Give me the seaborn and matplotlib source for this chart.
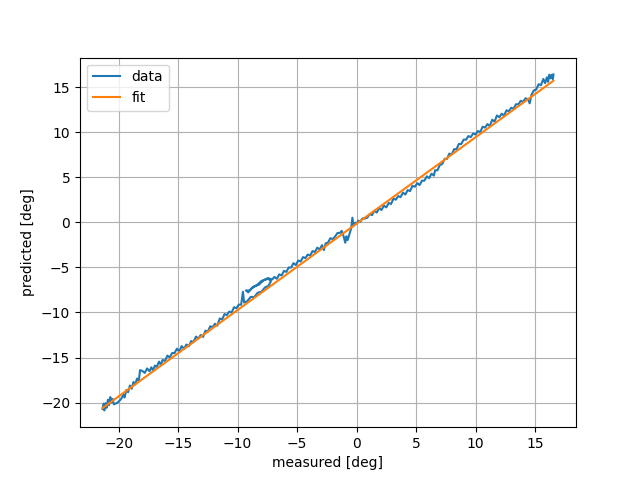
import matplotlib
matplotlib.use("Agg")
import matplotlib.pyplot as plt
import seaborn as sns
import pandas as pd

measured = [
    -21.35, -21.25, -21.2, -21.1, -21.0, -20.9, -20.8, -20.7, -20.6, -20.5,
    -20.4, -20.1, -19.8, -19.6, -19.5, -19.35, -19.2, -19.05, -18.9, -18.75,
    -18.6, -18.45, -18.3, -18.2, -18.0, -17.8, -17.6, -17.4, -17.25, -17.1,
    -16.95, -16.8, -16.6, -16.45, -16.3, -16.1, -15.9, -15.7, -15.5, -15.3,
    -15.1, -14.9, -14.7, -14.5, -14.3, -14.1, -13.9, -13.7, -13.5, -13.3,
    -13.1, -12.9, -12.7, -12.5, -12.3, -12.1, -11.9, -11.7, -11.5, -11.3,
    -11.1, -10.9, -10.7, -10.5, -10.3, -10.1, -9.9, -9.7, -9.55, -9.45,
    -9.2, -8.9, -8.6, -8.3, -8.0, -7.7, -7.4, -7.2,
    -7.45, -7.8, -8.2, -8.6, -9.0, -9.3,
    -9.1, -8.8, -8.4, -8.0, -7.6, -7.3, -7.1,
    -6.9, -6.7, -6.5, -6.3, -6.1, -5.9, -5.7, -5.5, -5.3, -5.1,
    -4.9, -4.7, -4.5, -4.3, -4.1, -3.9, -3.7, -3.5, -3.3, -3.1,
    -2.9, -2.75, -2.6, -2.4, -2.2, -2.0, -1.8, -1.6, -1.4, -1.25,
    -1.1, -0.95, -0.85, -0.75, -0.6, -0.45, -0.35, -0.25, -0.1, 0.0,
    0.15, 0.3, 0.5, 0.7, 0.9, 1.1, 1.3, 1.5, 1.7, 1.9, 2.1,
    2.3, 2.5, 2.7, 2.9, 3.1, 3.3, 3.5, 3.7, 3.9, 4.1,
    4.3, 4.5, 4.7, 4.9, 5.1, 5.3, 5.5, 5.7, 5.9, 6.1,
    6.3, 6.5, 6.6, 6.8, 7.0, 7.2, 7.4, 7.6, 7.8, 8.0,
    8.2, 8.4, 8.6, 8.8, 9.0, 9.2, 9.4, 9.6, 9.8, 10.0,
    10.2, 10.4, 10.6, 10.8, 11.0, 11.2, 11.4, 11.6, 11.8, 12.0,
    12.2, 12.4, 12.6, 12.8, 13.0, 13.2, 13.4, 13.6, 13.8, 14.0,
    14.2, 14.4, 14.55, 14.7, 14.9, 15.1, 15.3, 15.5, 15.7, 15.85,
    16.0, 16.1, 16.2, 16.3, 16.4, 16.5, 16.55,
]
predicted = [
    -20.70, -20.11, -20.86, -20.06, -20.57, -19.67, -20.28, -19.38, -19.98, -19.59,
    -20.19, -20.01, -19.62, -19.13, -19.43, -18.59, -18.84, -18.10, -18.46, -17.71,
    -17.97, -17.33, -17.58, -16.39, -16.49, -16.70, -16.21, -16.52, -16.08, -16.43,
    -15.89, -16.04, -15.45, -15.81, -15.27, -15.37, -14.78, -14.99, -14.50, -14.51,
    -14.02, -14.32, -13.73, -14.04, -13.55, -13.76, -13.17, -13.27, -12.68, -12.89,
    -12.50, -12.71, -12.02, -12.13, -11.53, -11.64, -11.25, -11.46, -10.67, -10.78,
    -10.18, -10.29, -9.90, -10.01, -9.42, -9.53, -9.13, -9.14, -7.70, -8.90,
    -8.76, -8.28, -8.29, -7.80, -7.71, -7.23, -7.04, -6.55,
    -6.19, -6.42, -6.91, -7.09, -7.57, -7.56,
    -7.77, -7.28, -7.00, -6.51, -6.33, -6.24, -6.35,
    -6.06, -6.27, -5.78, -5.89, -5.39, -5.50, -5.01, -5.02, -4.53, -4.74,
    -4.24, -4.35, -3.86, -3.97, -3.58, -3.69, -3.19, -3.30, -2.81, -3.02,
    -2.53, -3.08, -2.34, -2.25, -1.76, -1.87, -1.57, -1.18, -1.19, -0.95,
    -1.50, -2.26, -1.56, -1.97, -1.32, -0.68, 0.51, -0.39, -0.05, -0.15,
    0.19, 0.04, 0.43, 0.42, 0.51, 0.90, 0.80, 1.29, 1.08, 1.57, 1.36,
    1.85, 1.65, 2.14, 2.03, 2.62, 2.51, 2.90, 2.79, 3.29, 3.08,
    3.57, 3.46, 4.05, 3.94, 4.34, 4.13, 4.62, 4.61, 5.10, 4.89,
    5.39, 5.18, 5.77, 5.76, 6.36, 6.45, 7.04, 7.03, 7.62, 7.51,
    8.11, 8.10, 8.69, 8.68, 9.17, 9.16, 9.56, 9.45, 9.84, 9.73,
    10.12, 10.01, 10.60, 10.50, 10.89, 10.68, 11.37, 11.16, 11.85, 11.65,
    12.04, 11.83, 12.42, 12.31, 12.70, 12.60, 13.09, 13.08, 13.47, 13.36,
    13.75, 13.65, 13.19, 14.13, 14.62, 14.72, 15.31, 15.20, 15.89, 15.43,
    16.08, 15.57, 16.37, 15.97, 16.36, 15.86, 16.40,
]

fit_measured = [-21.35, 16.55]
fit_predicted = [-20.60, 15.70]

df_data = pd.DataFrame({"measured": measured, "predicted": predicted})
df_fit = pd.DataFrame({"measured": fit_measured, "predicted": fit_predicted})

fig, ax = plt.subplots(figsize=(6.4, 4.8), dpi=100)
sns.lineplot(data=df_data, x="measured", y="predicted", sort=False,
             estimator=None, color="#1f77b4", linewidth=1.5, label="data", ax=ax)
sns.lineplot(data=df_fit, x="measured", y="predicted", sort=False,
             estimator=None, color="#ff7f0e", linewidth=1.5, label="fit", ax=ax)
ax.set_xlabel("measured [deg]")
ax.set_ylabel("predicted [deg]")
ax.grid(True)
ax.legend(loc="upper left")
fig.savefig("out.png", dpi=100)
